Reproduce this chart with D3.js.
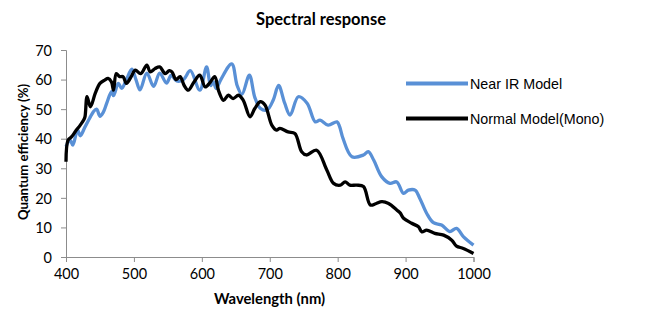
<!DOCTYPE html>
<html>
<head>
<meta charset="utf-8">
<script src="https://cdn.jsdelivr.net/npm/d3@7"></script>
<style>
  body { margin: 0; background: #fff; }
  text { font-family: Lato, "Open Sans", sans-serif; }
</style>
</head>
<body>
<div id="chart"></div>
<script>
// wavelength (nm) / quantum efficiency (%)
const nearIrNm = [400, 406, 410, 417, 421, 428, 435, 440, 445, 450, 455, 460, 467, 470, 477, 482, 489, 497, 503, 509,
  519, 529, 538, 548, 555, 563, 573, 583, 597, 607, 613, 617, 621, 628, 644, 652, 659, 670, 678, 686,
  696, 705, 713, 722, 730, 742, 755, 767, 774, 786, 799, 803, 808, 821, 838, 845, 853, 865, 877, 887,
  897, 904, 914, 921, 931, 941, 953, 965, 975, 985, 1000];
const nearIrQe = [37.3, 39.5, 37.8, 43, 41, 44, 47, 49, 50, 47.6, 49, 52, 55.9, 54.6, 58.7, 57, 60, 63.5, 60, 56.5,
  62.2, 57.7, 62.2, 58.8, 61.5, 59.5, 60, 63, 56.4, 64.3, 58, 59.2, 57, 60, 65.3, 58, 55, 61.5, 54, 50.3,
  49.7, 53, 58, 52, 48, 54.2, 52, 45.7, 46.3, 44.6, 45.7, 44, 40, 33.9, 34.5, 35.6, 32.8, 27.1, 24.9, 25.4,
  21.5, 22.6, 22.6, 19.8, 14.8, 11.6, 10.8, 8.6, 9.7, 6.9, 4];

const monoNm = [400, 403, 408, 414, 421, 426, 428, 431, 436, 443, 450, 457, 462, 467, 470, 474, 479, 484, 489, 496,
  502, 510, 519, 524, 531, 538, 546, 552, 556, 562, 568, 574, 580, 588, 597, 605, 612, 619, 625, 632,
  639, 646, 654, 661, 671, 678, 686, 693, 703, 710, 715, 727, 737, 747, 754, 769, 784, 794, 804, 811,
  818, 828, 838, 848, 856, 865, 875, 887, 892, 897, 909, 919, 924, 931, 943, 956, 968, 975, 985, 1000];
const monoQe = [32.2, 39.5, 40.6, 42.5, 44.6, 46.3, 47.5, 54.2, 50.8, 55.3, 58.7, 59.8, 60.4, 59.2, 56.4, 62, 61, 61, 58.7, 61,
  63.2, 62, 64.9, 62.6, 63.7, 64.3, 62, 63, 62.6, 60, 61, 58, 56.4, 59, 61.5, 57.5, 59, 61, 56, 53,
  54.7, 53.6, 54.7, 53, 47.4, 50.2, 52.5, 51.4, 44.6, 42.9, 43.5, 42.3, 41.8, 35.6, 34.5, 36.1, 29.4, 24.9, 24.3, 25.4,
  24.3, 24.3, 23.8, 17.6, 18, 18.7, 18.1, 15.9, 14.9, 13.1, 11.4, 10.2, 8.5, 9.1, 8, 7.4, 5.7, 3.7, 2.9, 1.2];

const xTicks = [400, 500, 600, 700, 800, 900, 1000];
const yTicks = [0, 10, 20, 30, 40, 50, 60, 70];
const seriesNames = ['Near IR Model', 'Normal Model(Mono)'];
const seriesColors = ['#5990d6', '#000000'];

const [W, H] = [645, 326];
const svg = d3.select('#chart').append('svg')
  .attr('width', W).attr('height', H);

const x = d3.scaleLinear().domain([400, 1000]).range([66, 473.5]);
const y = d3.scaleLinear().domain([0, 70]).range([257, 50]);
const axisColor = '#8c8c8c';

// axes
const gx = svg.append('g').attr('transform', `translate(0, ${y(0)})`)
  .call(d3.axisBottom(x).tickValues(xTicks).tickSize(5).tickPadding(7).tickFormat(d3.format('d')));
const gy = svg.append('g').attr('transform', `translate(${x(400)}, 0)`)
  .call(d3.axisLeft(y).tickValues(yTicks).tickSize(5).tickPadding(9));
[gx, gy].forEach(g => {
  g.select('.domain').attr('stroke', axisColor).attr('stroke-width', 1);
  g.selectAll('.tick line').attr('stroke', axisColor);
  g.selectAll('.tick text').attr('fill', '#000').attr('font-size', 14.5)
    .style('font-family', 'Lato, sans-serif');
});
gy.selectAll('.tick text').attr('dy', '0.36em');

// lines
const line = d3.line().curve(d3.curveCatmullRom.alpha(0.5));
const series = [
  nearIrNm.map((d, i) => [x(d), y(nearIrQe[i])]),
  monoNm.map((d, i) => [x(d), y(monoQe[i])])
];
svg.append('g').selectAll('path')
  .data(series).join('path')
  .attr('d', line)
  .attr('fill', 'none')
  .attr('stroke', (d, i) => seriesColors[i])
  .attr('stroke-width', 3.3)
  .attr('stroke-linejoin', 'round');

// legend
const legend = svg.append('g').selectAll('g')
  .data(seriesNames).join('g')
  .attr('transform', (d, i) => `translate(406, ${83.5 + i * 35})`);
legend.append('line')
  .attr('x1', 0).attr('x2', 62)
  .attr('stroke', (d, i) => seriesColors[i]).attr('stroke-width', 4);
legend.append('text')
  .attr('x', 64).attr('dy', '0.36em')
  .attr('font-size', 14.3)
  .style('font-family', '"Liberation Sans", Arial, sans-serif')
  .text(d => d);

// titles
svg.append('text')
  .attr('x', 321).attr('y', 25).attr('text-anchor', 'middle')
  .attr('font-size', 16.5).attr('font-weight', 'bold')
  .text('Spectral response');
svg.append('text')
  .attr('x', 269.5).attr('y', 304).attr('text-anchor', 'middle')
  .attr('font-size', 14.8).attr('font-weight', 'bold')
  .text('Wavelength (nm)');
svg.append('text')
  .attr('transform', 'translate(28, 152) rotate(-90)')
  .attr('text-anchor', 'middle')
  .attr('font-size', 13.2).attr('font-weight', 'bold')
  .text('Quantum efficiency (%)');
</script>
</body>
</html>
